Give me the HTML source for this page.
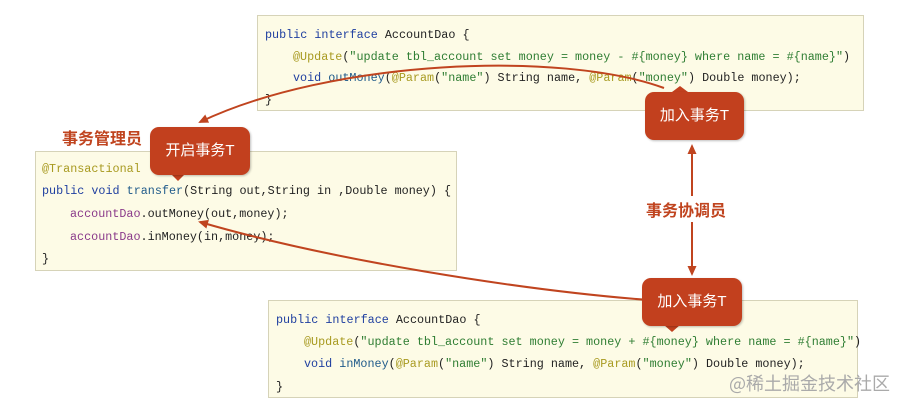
<!DOCTYPE html>
<html><head><meta charset="utf-8"><style>
body{margin:0;width:904px;height:406px;background:#fff;position:relative;overflow:hidden;font-family:"Liberation Sans","Noto Sans CJK SC",sans-serif}
.box{position:absolute;background:#fdfbe6;border:1px solid #d6d3b8;box-sizing:border-box;font-family:"Liberation Mono","DejaVu Sans Mono",monospace;font-size:11.75px;color:#222}
.ln{position:absolute;white-space:pre;line-height:14px}
.k{color:#1f3fa0}.a{color:#a89a20}.s{color:#2e7d32}.f{color:#1f5a8a}.p{color:#8a3a8a}
.co{position:absolute;background:#c2401e;color:#fff;border-radius:9px;font-size:15px;text-align:center;box-shadow:1px 1px 2px rgba(0,0,0,.25)}
.lab{position:absolute;color:#c0441f;font-weight:bold;font-size:16px;font-family:"Noto Sans CJK SC",sans-serif}
</style></head><body>
<div class="box" style="left:257px;top:15px;width:607px;height:96px">
<div class="ln" style="left:7px;top:12px"><span class="k">public interface</span> AccountDao {</div>
<div class="ln" style="left:35px;top:34px"><span class="a">@Update</span>(<span class="s">"update tbl_account set money = money - #{money} where name = #{name}"</span>)</div>
<div class="ln" style="left:35px;top:55px"><span class="k">void</span> <span class="f">outMoney</span>(<span class="a">@Param</span>(<span class="s">"name"</span>) String name, <span class="a">@Param</span>(<span class="s">"money"</span>) Double money);</div>
<div class="ln" style="left:7px;top:77px">}</div>
</div>
<div class="box" style="left:35px;top:151px;width:422px;height:120px">
<div class="ln" style="left:6px;top:10px"><span class="a">@Transactional</span></div>
<div class="ln" style="left:6px;top:32px"><span class="k">public void</span> <span class="f">transfer</span>(String out,String in ,Double money) {</div>
<div class="ln" style="left:34px;top:55px"><span class="p">accountDao</span>.outMoney(out,money);</div>
<div class="ln" style="left:34px;top:78px"><span class="p">accountDao</span>.inMoney(in,money);</div>
<div class="ln" style="left:6px;top:100px">}</div>
</div>
<div class="box" style="left:268px;top:300px;width:590px;height:98px">
<div class="ln" style="left:7px;top:12px"><span class="k">public interface</span> AccountDao {</div>
<div class="ln" style="left:35px;top:34px"><span class="a">@Update</span>(<span class="s">"update tbl_account set money = money + #{money} where name = #{name}"</span>)</div>
<div class="ln" style="left:35px;top:56px"><span class="k">void</span> <span class="f">inMoney</span>(<span class="a">@Param</span>(<span class="s">"name"</span>) String name, <span class="a">@Param</span>(<span class="s">"money"</span>) Double money);</div>
<div class="ln" style="left:7px;top:79px">}</div>
</div>
<svg width="904" height="406" style="position:absolute;left:0;top:0">
<defs><marker id="m2" markerWidth="12" markerHeight="12" refX="8" refY="4.5" orient="auto" markerUnits="userSpaceOnUse"><path d="M0,0 L10,4.5 L0,9 Z" fill="#c0441f"/></marker></defs>
<path d="M664,88 C560,50 330,60 200,122" fill="none" stroke="#c0441f" stroke-width="2" marker-end="url(#m2)"/>
<path d="M648,300 C520,290 330,260 200,222" fill="none" stroke="#c0441f" stroke-width="2" marker-end="url(#m2)"/>
<line x1="692" y1="196" x2="692" y2="146" stroke="#c0441f" stroke-width="2" marker-end="url(#m2)"/>
<line x1="692" y1="222" x2="692" y2="274" stroke="#c0441f" stroke-width="2" marker-end="url(#m2)"/>
<path d="M171,174 L185,174 L178,181 Z" fill="#c2401e"/>
<path d="M672,92 L688,92 L680,86 Z" fill="#c2401e"/>
<path d="M664,325 L680,325 L672,332 Z" fill="#c2401e"/>
</svg>
<div class="co" style="left:150px;top:127px;width:100px;height:48px;line-height:48px">开启事务T</div>
<div class="co" style="left:645px;top:92px;width:99px;height:48px;line-height:48px">加入事务T</div>
<div class="co" style="left:642px;top:278px;width:100px;height:48px;line-height:48px">加入事务T</div>
<div class="lab" style="left:62px;top:125px">事务管理员</div>
<div class="lab" style="left:646px;top:197px">事务协调员</div>
<div style="position:absolute;left:729px;top:370px;font-size:18px;color:#aaa;font-family:'Noto Sans CJK SC',sans-serif">@稀土掘金技术社区</div>
</body></html>
